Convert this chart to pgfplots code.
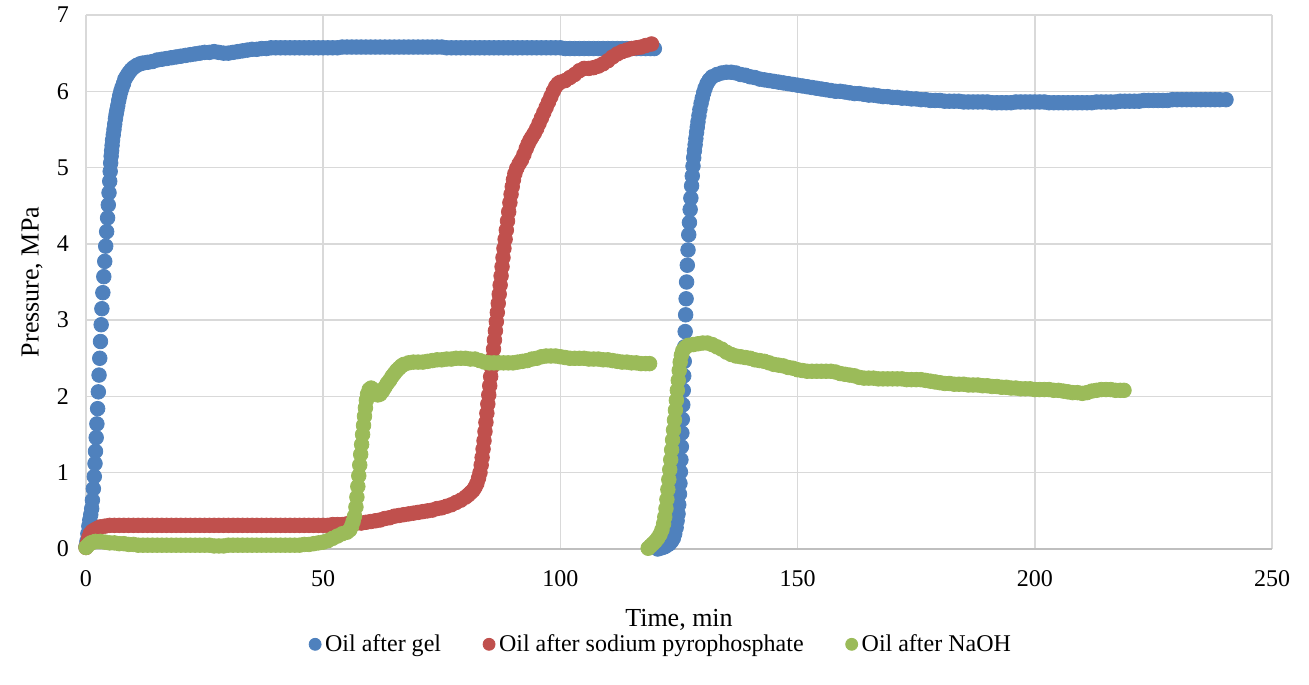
\documentclass[border=0pt]{standalone}
\usepackage{fontspec}
\setmainfont{Liberation Serif}
\usepackage{pgfplots}
\usepackage{pgfplotstable}
\pgfplotsset{compat=1.18}
\definecolor{cblue}{HTML}{4F81BD}
\definecolor{cred}{HTML}{C0504D}
\definecolor{cgreen}{HTML}{9BBB59}
\definecolor{cgrid}{HTML}{D9D9D9}
\definecolor{caxis}{HTML}{BFBFBF}

\pgfplotstableread{
x y
0 0.03
0.2 0.1
0.4 0.2
0.6 0.3
0.8 0.38
1.0 0.45
1.2 0.53
1.35 0.64
1.55 0.79
1.75 0.95
1.9 1.12
2.0 1.28
2.15 1.46
2.3 1.64
2.45 1.84
2.6 2.06
2.75 2.28
2.9 2.50
3.05 2.72
3.2 2.94
3.35 3.15
3.55 3.36
3.75 3.57
3.95 3.77
4.15 3.97
4.35 4.16
4.55 4.34
4.7 4.51
4.85 4.67
5.0 4.82
5.1 4.95
5.2 5.06
5.3 5.15
5.4 5.22
5.5 5.29
5.6 5.36
5.75 5.43
5.9 5.5
6.05 5.57
6.2 5.64
6.35 5.7
6.5 5.75
6.7 5.81
6.9 5.88
7.1 5.94
7.35 6.0
7.6 6.05
7.9 6.1
8.2 6.16
8.6 6.2
9.0 6.24
9.5 6.28
10 6.31
10.7 6.34
11.4 6.36
12 6.37
13 6.38
14 6.39
15 6.41
16 6.42
17 6.43
18 6.44
19 6.45
20 6.46
21 6.47
22 6.48
23 6.49
24 6.50
25 6.51
26 6.51
27 6.52
28 6.51
29 6.50
30 6.50
31 6.51
32 6.52
33 6.53
34 6.54
35 6.55
36 6.55
37 6.56
38 6.56
39 6.57
40 6.57
41 6.57
42 6.57
43 6.57
44 6.57
45 6.57
46 6.57
47 6.57
48 6.57
49 6.57
50 6.57
51 6.57
52 6.57
53 6.57
54 6.58
55 6.58
56 6.58
57 6.58
58 6.58
59 6.58
60 6.58
61 6.58
62 6.58
63 6.58
64 6.58
65 6.58
66 6.58
67 6.58
68 6.58
69 6.58
70 6.58
71 6.58
72 6.58
73 6.58
74 6.58
75 6.58
76 6.57
77 6.57
78 6.57
79 6.57
80 6.57
81 6.57
82 6.57
83 6.57
84 6.57
85 6.57
86 6.57
87 6.57
88 6.57
89 6.57
90 6.57
91 6.57
92 6.57
93 6.57
94 6.57
95 6.57
96 6.57
97 6.57
98 6.57
99 6.57
100 6.57
101 6.56
102 6.56
103 6.56
104 6.56
105 6.56
106 6.56
107 6.56
108 6.56
109 6.56
110 6.56
111 6.56
112 6.56
113 6.56
114 6.56
115 6.56
116 6.56
117 6.56
118 6.56
119 6.56
119.8 6.56
120.5 0.0
121 0.01
121.5 0.02
122 0.03
122.5 0.05
123 0.07
123.4 0.1
123.8 0.14
124.1 0.2
124.4 0.28
124.6 0.37
124.8 0.46
124.95 0.58
125.1 0.72
125.2 0.86
125.3 1.01
125.4 1.17
125.5 1.34
125.6 1.52
125.7 1.7
125.8 1.89
125.9 2.08
126.0 2.27
126.1 2.46
126.2 2.65
126.3 2.85
126.4 3.07
126.5 3.28
126.6 3.5
126.75 3.72
126.9 3.92
127.05 4.12
127.2 4.28
127.35 4.45
127.5 4.6
127.65 4.76
127.8 4.89
127.95 5.02
128.1 5.13
128.25 5.22
128.4 5.3
128.55 5.38
128.7 5.46
128.85 5.53
129.0 5.6
129.2 5.68
129.4 5.76
129.65 5.84
129.9 5.91
130.2 5.98
130.5 6.04
130.9 6.1
131.4 6.15
132 6.19
133 6.22
134 6.24
135 6.25
136 6.25
137 6.24
138 6.22
139 6.21
140 6.19
141 6.18
142 6.16
143 6.15
144 6.14
145 6.13
146 6.12
147 6.11
148 6.10
149 6.09
150 6.08
151 6.07
152 6.06
153 6.05
154 6.04
155 6.03
156 6.02
157 6.01
158 6.00
159 6.00
160 5.99
161 5.98
162 5.97
163 5.97
164 5.96
165 5.95
166 5.95
167 5.94
168 5.93
169 5.93
170 5.92
171 5.92
172 5.91
173 5.91
174 5.90
175 5.90
176 5.89
177 5.89
178 5.88
179 5.88
180 5.88
181 5.87
182 5.87
183 5.87
184 5.87
185 5.86
186 5.86
187 5.86
188 5.86
189 5.86
190 5.86
191 5.85
192 5.85
193 5.85
194 5.85
195 5.85
196 5.86
197 5.86
198 5.86
199 5.86
200 5.86
201 5.86
202 5.86
203 5.85
204 5.85
205 5.85
206 5.85
207 5.85
208 5.85
209 5.85
210 5.85
211 5.85
212 5.85
213 5.86
214 5.86
215 5.86
216 5.86
217 5.86
218 5.87
219 5.87
220 5.87
221 5.87
222 5.87
223 5.88
224 5.88
225 5.88
226 5.88
227 5.88
228 5.88
229 5.89
230 5.89
231 5.89
232 5.89
233 5.89
234 5.89
235 5.89
236 5.89
237 5.89
238 5.89
239 5.89
240.3 5.89
}\bluedata

\pgfplotstableread{
x y
0 0.02
0.3 0.08
0.6 0.15
0.9 0.2
1.3 0.23
1.8 0.25
2.4 0.27
3 0.29
4 0.3
5 0.31
6 0.31
7 0.31
8 0.31
9 0.31
10 0.31
11 0.31
12 0.31
13 0.31
14 0.31
15 0.31
16 0.31
17 0.31
18 0.31
19 0.31
20 0.31
21 0.31
22 0.31
23 0.31
24 0.31
25 0.31
26 0.31
27 0.31
28 0.31
29 0.31
30 0.31
31 0.31
32 0.31
33 0.31
34 0.31
35 0.31
36 0.31
37 0.31
38 0.31
39 0.31
40 0.31
41 0.31
42 0.31
43 0.31
44 0.31
45 0.31
46 0.31
47 0.31
48 0.31
49 0.31
50 0.31
51 0.31
52 0.32
53 0.32
54 0.32
55 0.33
56 0.33
57 0.34
58 0.34
59 0.35
60 0.36
61 0.37
62 0.38
63 0.40
64 0.41
65 0.43
66 0.44
67 0.45
68 0.46
69 0.47
70 0.48
71 0.49
72 0.50
73 0.51
74 0.53
75 0.54
76 0.56
77 0.58
78 0.61
79 0.64
80 0.68
80.6 0.71
81.1 0.74
81.6 0.77
82.0 0.81
82.4 0.86
82.75 0.93
83.05 1.0
83.3 1.1
83.5 1.2
83.7 1.31
83.9 1.42
84.1 1.54
84.3 1.66
84.5 1.78
84.7 1.9
84.9 2.02
85.1 2.14
85.3 2.26
85.5 2.38
85.7 2.5
85.9 2.62
86.1 2.74
86.3 2.86
86.5 2.98
86.7 3.1
86.9 3.22
87.1 3.34
87.3 3.46
87.5 3.58
87.7 3.7
87.9 3.82
88.1 3.94
88.35 4.06
88.6 4.18
88.85 4.3
89.1 4.42
89.35 4.54
89.6 4.65
89.85 4.75
90.1 4.84
90.4 4.92
90.8 4.99
91.3 5.05
91.8 5.1
92.3 5.17
92.8 5.25
93.2 5.31
93.6 5.36
94 5.4
94.5 5.45
95 5.51
95.5 5.58
96 5.65
96.5 5.72
97 5.79
97.5 5.86
98 5.93
98.5 6.0
99 6.06
99.5 6.1
100 6.12
101 6.14
102 6.18
103 6.22
104 6.27
105 6.30
106 6.30
107 6.31
108 6.33
109 6.36
110 6.40
111 6.45
112 6.49
113 6.52
114 6.54
115 6.56
116 6.57
117 6.58
118 6.60
119.2 6.62
}\reddata

\pgfplotstableread{
x y
0 0.02
0.3 0.04
0.6 0.06
1 0.08
1.5 0.09
2 0.1
3 0.1
4 0.09
5 0.08
6 0.08
7 0.07
8 0.07
9 0.06
10 0.06
11 0.05
12 0.05
13 0.05
14 0.05
15 0.05
16 0.05
17 0.05
18 0.05
19 0.05
20 0.05
21 0.05
22 0.05
23 0.05
24 0.05
25 0.05
26 0.05
27 0.04
28 0.04
29 0.04
30 0.05
31 0.05
32 0.05
33 0.05
34 0.05
35 0.05
36 0.05
37 0.05
38 0.05
39 0.05
40 0.05
41 0.05
42 0.05
43 0.05
44 0.05
45 0.05
46 0.06
47 0.06
48 0.07
49 0.08
50 0.09
51 0.11
52 0.14
53 0.17
54 0.2
55 0.22
55.6 0.25
56.0 0.3
56.3 0.36
56.6 0.43
56.9 0.55
57.1 0.68
57.3 0.82
57.5 0.96
57.7 1.1
57.9 1.24
58.1 1.37
58.3 1.5
58.5 1.62
58.7 1.74
58.9 1.85
59.1 1.95
59.35 2.03
59.7 2.09
60.1 2.11
60.5 2.09
61 2.05
61.5 2.02
62 2.03
62.5 2.07
63 2.12
63.5 2.17
64 2.21
64.5 2.26
65 2.30
65.5 2.34
66 2.37
66.5 2.40
67 2.42
68 2.44
69 2.45
70 2.45
71 2.45
72 2.46
73 2.47
74 2.48
75 2.48
76 2.49
77 2.49
78 2.50
79 2.50
80 2.50
81 2.49
82 2.49
83 2.47
84 2.45
85 2.44
86 2.44
87 2.44
88 2.44
89 2.44
90 2.44
91 2.45
92 2.46
93 2.47
94 2.49
95 2.50
96 2.52
97 2.53
98 2.53
99 2.53
100 2.52
101 2.51
102 2.50
103 2.50
104 2.50
105 2.50
106 2.49
107 2.49
108 2.49
109 2.48
110 2.48
111 2.47
112 2.46
113 2.45
114 2.45
115 2.44
116 2.44
117 2.43
118 2.43
118.8 2.43
118.5 0.01
119 0.04
119.5 0.07
120 0.1
120.5 0.14
121 0.19
121.4 0.25
121.75 0.33
122.0 0.42
122.25 0.53
122.45 0.65
122.65 0.78
122.85 0.91
123.05 1.04
123.25 1.17
123.45 1.3
123.65 1.43
123.85 1.56
124.05 1.69
124.25 1.82
124.45 1.95
124.65 2.08
124.85 2.21
125.05 2.34
125.25 2.45
125.5 2.54
125.8 2.6
126.3 2.64
127 2.67
128 2.68
129 2.69
130 2.70
131 2.70
132 2.68
133 2.65
134 2.62
135 2.58
136 2.55
137 2.53
138 2.52
139 2.51
140 2.50
141 2.48
142 2.47
143 2.46
144 2.44
145 2.42
146 2.41
147 2.40
148 2.38
149 2.37
150 2.35
151 2.34
152 2.33
153 2.33
154 2.33
155 2.33
156 2.33
157 2.33
158 2.32
159 2.30
160 2.29
161 2.28
162 2.27
163 2.25
164 2.24
165 2.24
166 2.24
167 2.23
168 2.23
169 2.23
170 2.23
171 2.23
172 2.23
173 2.22
174 2.22
175 2.22
176 2.22
177 2.21
178 2.20
179 2.19
180 2.18
181 2.17
182 2.17
183 2.16
184 2.16
185 2.16
186 2.15
187 2.15
188 2.15
189 2.14
190 2.14
191 2.13
192 2.13
193 2.12
194 2.12
195 2.11
196 2.11
197 2.10
198 2.10
199 2.10
200 2.09
201 2.09
202 2.09
203 2.09
204 2.08
205 2.08
206 2.07
207 2.06
208 2.05
209 2.05
210 2.04
211 2.05
212 2.07
213 2.08
214 2.09
215 2.09
216 2.09
217 2.08
218 2.08
218.8 2.08
}\greendata

\begin{document}
\begin{tikzpicture}
\useasboundingbox (-43pt,-67.5pt) rectangle (611.5pt,274.5pt);
\begin{axis}[
  scale only axis, width=593pt, height=267pt,
  xmin=0, xmax=250, ymin=0, ymax=7,
  xtick={0,50,...,250}, ytick={0,1,...,7},
  clip=false,
  grid=major, major grid style={cgrid, line width=0.75pt},
  axis x line*=bottom, axis y line*=left,
  axis line style={-},
  x axis line style={caxis, line width=0.9pt},
  y axis line style={cgrid, line width=0.75pt},
  major tick length=0pt,
  /pgf/number format/assume math mode=true,
  tick label style={font=\fontsize{12}{14}\selectfont},
  xticklabel style={yshift=-7pt},
  yticklabel style={xshift=-5pt},
  xlabel={Time, min}, ylabel={Pressure, MPa},
  label style={font=\fontsize{13}{15}\selectfont},
  xlabel style={at={(axis description cs:0.5,-0.133)}, anchor=center},
  ylabel style={at={(axis description cs:-0.0455,0.5)}, anchor=center},
  legend columns=3,
  legend style={at={(axis description cs:0.4857,-0.1785)}, anchor=center,
    draw=none, fill=none, font=\fontsize{12}{14}\selectfont,
    /tikz/every even column/.append style={column sep=19pt}},
  legend image code/.code={\draw[#1,mark size=3pt] plot coordinates {(0pt,0pt)};},
]
\addplot[only marks, mark=*, mark size=3.65pt, color=cblue, mark options={fill=cblue, draw=cblue, line width=0.4pt}] table {\bluedata};
\addlegendentry{Oil after gel}
\addplot[only marks, mark=*, mark size=3.65pt, color=cred, mark options={fill=cred, draw=cred, line width=0.4pt}] table {\reddata};
\addlegendentry{Oil after sodium pyrophosphate}
\addplot[only marks, mark=*, mark size=3.65pt, color=cgreen, mark options={fill=cgreen, draw=cgreen, line width=0.4pt}] table {\greendata};
\addlegendentry{Oil after NaOH}
\end{axis}
\end{tikzpicture}
\end{document}
